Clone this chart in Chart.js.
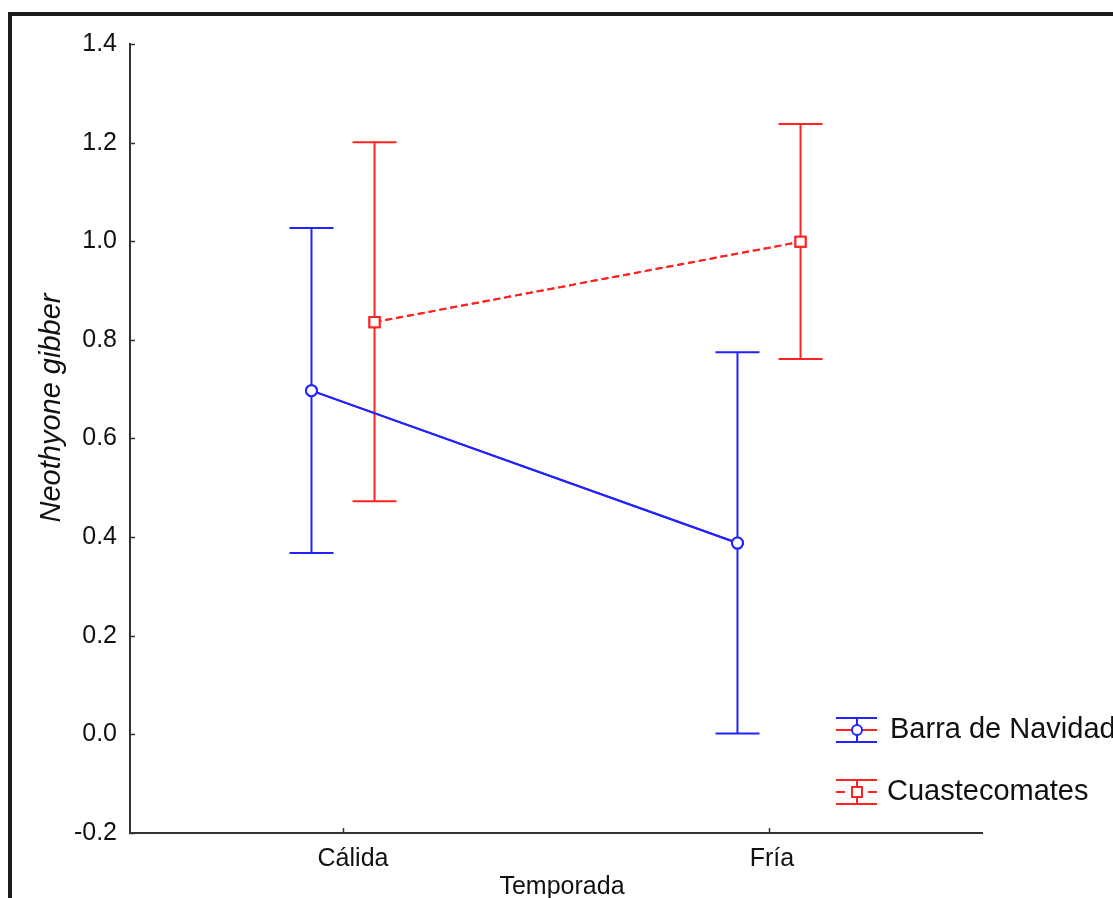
<!DOCTYPE html>
<html>
<head>
<meta charset="utf-8">
<script src="https://cdn.jsdelivr.net/npm/chart.js@4"></script>
<style>
  html, body { margin: 0; padding: 0; background: #fff; overflow: hidden; }
  #wrap { width: 1113px; height: 898px; position: relative; }
</style>
</head>
<body>
<div id="wrap"><canvas id="chart" width="1113" height="898"></canvas></div>
<script>
// Categories and values
const seasons = ['Cálida', 'Fría'];
const seriesNames = ['Barra de Navidad', 'Cuastecomates'];
const barraMean = [0.697, 0.388];
const barraLow = [0.368, 0.002];
const barraHigh = [1.027, 0.775];
const cuasteMean = [0.836, 0.999];
const cuasteLow = [0.473, 0.761];
const cuasteHigh = [1.201, 1.238];
const yTicks = [-0.2, 0.0, 0.2, 0.4, 0.6, 0.8, 1.0, 1.2, 1.4];

const BLUE = 'rgb(35,35,255)';
const RED = 'rgb(255,35,35)';
const AXIS = '#333';
const FONT = '"Liberation Sans", Arial, sans-serif';
const SHIFT = 0.074; // horizontal dodge between the two series
const LABEL_NUDGE = [10, 3]; // category labels sit a bit right of their ticks

function pts(means, dx) {
    return means.map((v, i) => ({ x: i + 1 + dx, y: v }));
}

// error bars, inward ticks, titles, frame and legend
const extras = {
    id: 'extras',
    afterDatasetsDraw(chart) {
        const { ctx, scales: { x, y } } = chart;
        ctx.save();

        // whiskers
        const bars = [
            { dx: -SHIFT, lo: barraLow, hi: barraHigh, color: BLUE },
            { dx: SHIFT, lo: cuasteLow, hi: cuasteHigh, color: RED }
        ];
        bars.forEach(b => {
            ctx.strokeStyle = b.color;
            ctx.lineWidth = 2;
            b.lo.forEach((lo, i) => {
                const px = x.getPixelForValue(i + 1 + b.dx);
                const py1 = y.getPixelForValue(lo);
                const py2 = y.getPixelForValue(b.hi[i]);
                ctx.beginPath();
                ctx.moveTo(px, py1); ctx.lineTo(px, py2);
                ctx.moveTo(px - 22, py1); ctx.lineTo(px + 22, py1);
                ctx.moveTo(px - 22, py2); ctx.lineTo(px + 22, py2);
                ctx.stroke();
            });
        });
        ctx.restore();
    },
    afterDraw(chart) {
        const { ctx, scales: { x, y }, chartArea } = chart;
        ctx.save();
        // redraw markers over the whiskers
        chart.getSortedVisibleDatasetMetas().forEach(m => m.controller.draw());

        // inward tick marks
        ctx.strokeStyle = AXIS;
        ctx.lineWidth = 1.5;
        ctx.beginPath();
        yTicks.forEach(v => {
            const py = Math.round(y.getPixelForValue(v)) + 0.5;
            ctx.moveTo(chartArea.left, py); ctx.lineTo(chartArea.left + 5, py);
        });
        seasons.forEach((s, i) => {
            const px = Math.round(x.getPixelForValue(i + 1)) + 0.5;
            ctx.moveTo(px, chartArea.bottom); ctx.lineTo(px, chartArea.bottom - 5);
        });
        ctx.stroke();

        // category labels
        ctx.fillStyle = '#111';
        ctx.textAlign = 'center';
        ctx.textBaseline = 'middle';
        ctx.font = '25px ' + FONT;
        seasons.forEach((s, i) => {
            ctx.fillText(s, x.getPixelForValue(i + 1) + LABEL_NUDGE[i], 859);
        });

        // axis titles
        ctx.fillText('Temporada', 562, 887);
        ctx.save();
        ctx.translate(52, 408);
        ctx.rotate(-Math.PI / 2);
        ctx.font = 'italic 29px ' + FONT;
        ctx.fillText('Neothyone gibber', 0, 0);
        ctx.restore();

        // outer frame (cut off at right and bottom)
        ctx.strokeStyle = '#1c1c1c';
        ctx.lineWidth = 4;
        ctx.beginPath();
        ctx.moveTo(10, 900); ctx.lineTo(10, 14); ctx.lineTo(1120, 14);
        ctx.stroke();

        // legend
        const lx1 = 836, lx2 = 877, lxm = 857;
        ctx.lineWidth = 2;
        // Barra de Navidad
        ctx.strokeStyle = BLUE;
        ctx.beginPath();
        ctx.moveTo(lx1, 718); ctx.lineTo(lx2, 718);
        ctx.moveTo(lx1, 742); ctx.lineTo(lx2, 742);
        ctx.moveTo(lxm, 718); ctx.lineTo(lxm, 742);
        ctx.stroke();
        ctx.strokeStyle = RED;
        ctx.beginPath();
        ctx.moveTo(lx1, 730); ctx.lineTo(lx2, 730);
        ctx.stroke();
        ctx.strokeStyle = BLUE;
        ctx.fillStyle = '#fff';
        ctx.beginPath();
        ctx.arc(lxm, 730, 5, 0, Math.PI * 2);
        ctx.fill(); ctx.stroke();
        // Cuastecomates
        ctx.strokeStyle = RED;
        ctx.beginPath();
        ctx.moveTo(lx1, 780); ctx.lineTo(lx2, 780);
        ctx.moveTo(lx1, 804); ctx.lineTo(lx2, 804);
        ctx.moveTo(lxm, 780); ctx.lineTo(lxm, 804);
        ctx.moveTo(lx1, 792); ctx.lineTo(lx1 + 9, 792);
        ctx.moveTo(lx2 - 9, 792); ctx.lineTo(lx2, 792);
        ctx.stroke();
        ctx.fillStyle = '#fff';
        ctx.fillRect(lxm - 5, 787, 10, 10);
        ctx.strokeRect(lxm - 5, 787, 10, 10);

        ctx.fillStyle = '#111';
        ctx.textAlign = 'left';
        ctx.font = '29px ' + FONT;
        ctx.fillText(seriesNames[0], 890, 730);
        ctx.fillText(seriesNames[1], 887, 792);
        ctx.restore();
    }
};

new Chart(document.getElementById('chart'), {
    type: 'line',
    data: {
        datasets: [
            {
                label: seriesNames[0],
                data: pts(barraMean, -SHIFT),
                borderColor: BLUE,
                borderWidth: 2,
                pointStyle: 'circle',
                pointRadius: 5.5,
                pointBorderWidth: 2,
                pointBackgroundColor: '#fff',
                pointBorderColor: BLUE,
                tension: 0
            },
            {
                label: seriesNames[1],
                data: pts(cuasteMean, SHIFT),
                borderColor: RED,
                borderWidth: 2,
                borderDash: [7, 4],
                pointStyle: 'rect',
                pointRadius: 7.2,
                pointBorderWidth: 2,
                pointBackgroundColor: '#fff',
                pointBorderColor: RED,
                tension: 0
            }
        ]
    },
    options: {
        responsive: false,
        animation: false,
        layout: { padding: { left: 0, top: 44, right: 131, bottom: 0 } },
        plugins: { legend: { display: false }, tooltip: { enabled: false } },
        scales: {
            x: {
                type: 'linear',
                min: 0.5,
                max: 2.5,
                afterBuildTicks: s => { s.ticks = seasons.map((_, i) => ({ value: i + 1 })); },
                afterFit: s => { s.height = 65; },
                grid: { display: false, drawTicks: false },
                border: { display: true, color: AXIS, width: 2 },
                ticks: { display: false }
            },
            y: {
                min: -0.2,
                max: 1.4,
                afterBuildTicks: s => { s.ticks = yTicks.map(v => ({ value: v })); },
                afterFit: s => { s.width = 130; },
                grid: { display: false, drawTicks: false },
                border: { display: true, color: AXIS, width: 2 },
                ticks: {
                    padding: 13,
                    color: '#111',
                    font: { family: FONT, size: 25 },
                    callback: v => v.toFixed(1)
                }
            }
        }
    },
    plugins: [extras]
});
</script>
</body>
</html>
